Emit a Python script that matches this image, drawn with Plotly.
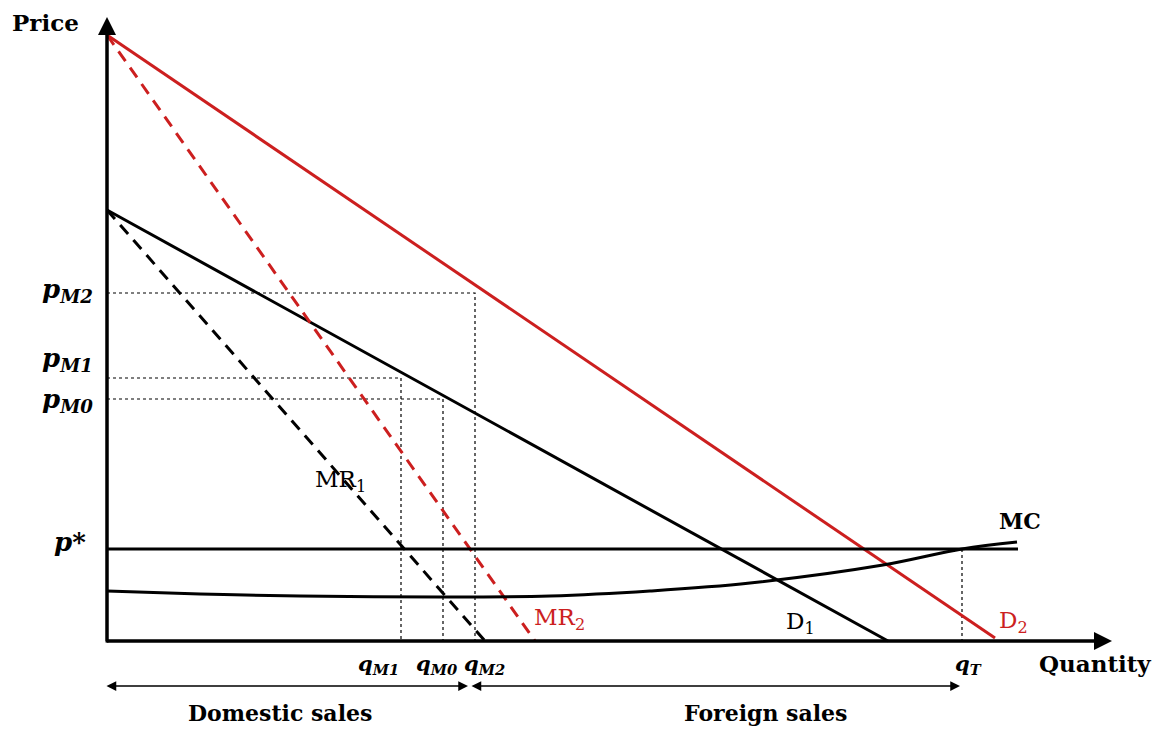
import plotly.graph_objects as go

# Quantity / price units (origin at the axes corner)
d2_q = [0, 888]
d2_p = [606, 3]
mr2_q = [0, 428]
mr2_p = [606, 0]
d1_q = [0, 781]
d1_p = [431, 0]
mr1_q = [0, 378]
mr1_p = [431, 0]
mc_q = [0, 93, 193, 333, 443, 543, 643, 776, 855, 910]
mc_p = [50, 47, 45, 44, 45, 50, 58, 76, 92, 99]
p_star = 92
p_star_end = 911
pM2, qM2 = 348, 368
pM1, qM1 = 263, 294
pM0, qM0 = 242, 336
qT = 855
y_top = 624
x_right = 1005
sales_level = -45
domestic_range = [-2, 361]
foreign_range = [363, 853]

RED = "#cc1f1f"
BLACK = "#000000"
SERIF = "DejaVu Serif"

fig = go.Figure()

def line(q, p, color, width=3, dash="solid"):
    fig.add_trace(go.Scatter(x=q, y=p, mode="lines",
                             line=dict(color=color, width=width, dash=dash),
                             hoverinfo="skip", showlegend=False))

# dotted guide lines
line([0, qM2, qM2], [pM2, pM2, 0], BLACK, 1.2, "dot")
line([0, qM1, qM1], [pM1, pM1, 0], BLACK, 1.2, "dot")
line([0, qM0, qM0], [pM0, pM0, 0], BLACK, 1.2, "dot")
line([qT, qT], [p_star, 0], BLACK, 1.2, "dot")

# curves
line(d1_q, d1_p, BLACK, 3)
line(mr1_q, mr1_p, BLACK, 3, "12px,8px")
line(d2_q, d2_p, RED, 3)
line(mr2_q, mr2_p, RED, 3, "12px,8px")
line([0, p_star_end], [p_star, p_star], BLACK, 3)
fig.add_trace(go.Scatter(x=mc_q, y=mc_p, mode="lines", line=dict(color=BLACK, width=3, shape="spline"),
                         hoverinfo="skip", showlegend=False))

ann = []
# axes arrows
ann.append(dict(x=0, y=y_top, ax=0, ay=-3, xref="x", yref="y", axref="x", ayref="y",
                showarrow=True, arrowhead=2, arrowsize=1.2, arrowwidth=3, arrowcolor=BLACK, text=""))
ann.append(dict(x=x_right, y=0, ax=-2, ay=0, xref="x", yref="y", axref="x", ayref="y",
                showarrow=True, arrowhead=2, arrowsize=1.2, arrowwidth=3, arrowcolor=BLACK, text=""))
# sales arrows
for r in (domestic_range, foreign_range):
    ann.append(dict(x=r[1], y=sales_level, ax=r[0], ay=sales_level, xref="x", yref="y", axref="x", ayref="y",
                    showarrow=True, arrowhead=2, arrowside="end+start", arrowsize=1.3, arrowwidth=1.5,
                    arrowcolor=BLACK, text=""))

def label(text, q, p, size=22, color=BLACK, xanchor="center", yanchor="middle"):
    ann.append(dict(x=q, y=p, xref="x", yref="y", text=text, showarrow=False,
                    font=dict(family=SERIF, size=size, color=color), xanchor=xanchor, yanchor=yanchor))

def bi(s):
    return "<b><i>" + s + "</i></b>"

label("<b>Price</b>", -62, 619, 23)
label(bi("p") + "<sub>" + bi("M2") + "</sub>", -12, 351, 26, xanchor="right")
label(bi("p") + "<sub>" + bi("M1") + "</sub>", -12, 282, 26, xanchor="right")
label(bi("p") + "<sub>" + bi("M0") + "</sub>", -12, 241, 26, xanchor="right")
label(bi("p") + "<b>*</b>", -19, 99, 26, xanchor="right")
label("MR<sub>1</sub>", 233, 160, 23)
label("MR<sub>2</sub>", 452, 22, 23, RED)
label("D<sub>1</sub>", 693, 18, 23)
label("D<sub>2</sub>", 906, 19, 23, RED)
label("<b>MC</b>", 913, 120, 22)
label(bi("q") + "<sub>" + bi("M1") + "</sub>", 271, -23, 21)
label(bi("q") + "<sub>" + bi("M0") + "</sub>", 330, -23, 21)
label(bi("q") + "<sub>" + bi("M2") + "</sub>", 377, -23, 21)
label(bi("q") + "<sub>" + bi("T") + "</sub>", 861, -23, 21)
label("<b>Quantity</b>", 988, -22, 23)
label("<b>Domestic sales</b>", 173, -72, 22)
label("<b>Foreign sales</b>", 658, -72, 22)

# axes lines
fig.add_shape(type="line", x0=0, y0=0, x1=0, y1=y_top - 8, xref="x", yref="y",
              line=dict(color=BLACK, width=3))
fig.add_shape(type="line", x0=0, y0=0, x1=x_right - 8, y1=0, xref="x", yref="y",
              line=dict(color=BLACK, width=3))

fig.update_layout(
    width=1166, height=729, margin=dict(l=0, r=0, t=0, b=0),
    paper_bgcolor="white", plot_bgcolor="white", annotations=ann,
    xaxis=dict(range=[-107, 1059], visible=False, fixedrange=True),
    yaxis=dict(range=[-88, 641], visible=False, fixedrange=True),
)
fig.write_html("out.html", config={"displayModeBar": False},
               post_script="document.body.style.margin='0';document.body.style.overflow='hidden';")
